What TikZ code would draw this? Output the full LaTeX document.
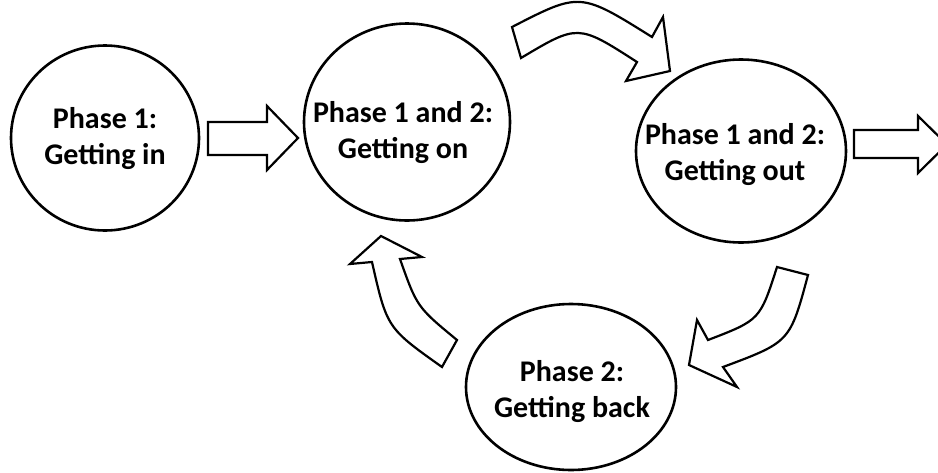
\documentclass[tikz,border=0pt]{standalone}
\usepackage{fontspec}
\setmainfont{Carlito}
\usetikzlibrary{shapes.geometric}
\begin{document}
\begin{tikzpicture}[x=1pt,y=-1pt,
  phase/.style={ellipse, draw=black, line width=2.6pt, fill=white, inner sep=0pt},
  caption/.style={align=center, font=\bfseries\fontsize{30}{36}\selectfont, inner sep=0pt},
  blockarrow/.style={draw=black, line width=2.2pt, fill=white, line join=miter}]
\useasboundingbox (0,0) rectangle (938,472);

% phases
\node[phase, minimum width=188pt, minimum height=185pt] (p1) at (105,138) {};
\node[phase, minimum width=206pt, minimum height=197pt] (p2) at (407,122) {};
\node[phase, minimum width=210pt, minimum height=183pt] (p3) at (741,151) {};
\node[phase, minimum width=210pt, minimum height=166pt] (p4) at (571,387) {};

\node[caption] (t1) at (105,139) {Phase 1:\\Getting in};
\node[caption] (t2) at (403,133) {Phase 1 and 2:\\Getting on};
\node[caption] (t3) at (735,155) {Phase 1 and 2:\\Getting out};
\node[caption] (t4) at (572,392) {Phase 2:\\Getting back};

% straight block arrows
\draw[blockarrow] (208,122) -- (267,122) -- (267,106) -- (298,138)
  -- (267,170) -- (267,155) -- (208,155) -- cycle;
\draw[blockarrow] (854,130) -- (918,130) -- (918,116) -- (947,144.5)
  -- (918,173) -- (918,158) -- (854,158) -- cycle;

% curved block arrow from p2 to p3
\draw[blockarrow] (512,27) .. controls (580,-8) .. (652,37) -- (663,17)
  -- (670,71) -- (626,81) -- (637,62) .. controls (578,24) .. (521,58) -- cycle;

% curved block arrow from p3 to p4
\draw[blockarrow] (808,275) .. controls (790,342) .. (723,367) -- (737,387)
  -- (689,365) -- (697,320) -- (708,340) .. controls (760,320) .. (777,267) -- cycle;

% curved block arrow from p4 to p2
\draw[blockarrow] (457,340) .. controls (417,307) .. (400,259) -- (422,257)
  -- (381,236) -- (350,264) -- (372,262) .. controls (387,328) .. (442,367) -- cycle;
\end{tikzpicture}
\end{document}
